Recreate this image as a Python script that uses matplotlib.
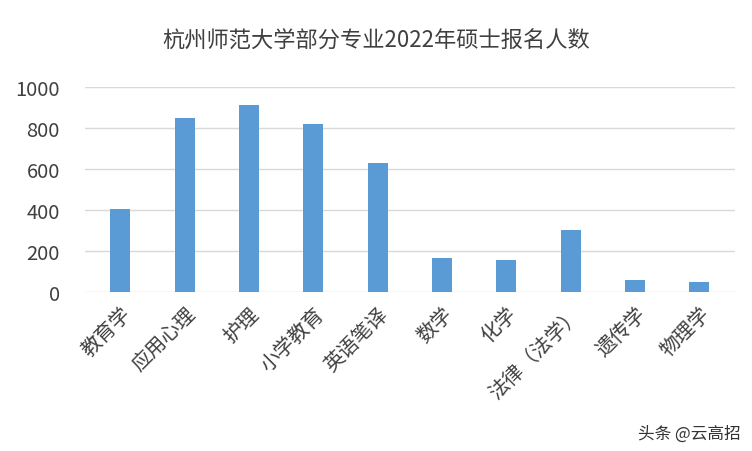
import matplotlib
matplotlib.use("Agg")
import matplotlib.pyplot as plt

plt.rcParams['font.family'] = ['Noto Sans CJK SC', 'DejaVu Sans']

categories = ["教育学", "应用心理", "护理", "小学教育", "英语笔译", "数学", "化学", "法律（法学）", "遗传学", "物理学"]
values = [405, 848, 912, 820, 628, 165, 155, 300, 58, 50]
yticks = [0, 200, 400, 600, 800, 1000]

fig = plt.figure(figsize=(7.52, 4.52), dpi=100)
ax = fig.add_axes([0.113, 0.352, 0.864, 0.453])
x = range(len(categories))
ax.bar(x, values, width=0.31, color="#5B9BD5", zorder=3)
ax.set_ylim(0, 1000)
ax.set_xlim(-0.55, len(categories) - 0.45)
ax.set_yticks(yticks)
ax.set_yticklabels([str(v) for v in yticks], fontsize=14.5, color="#404040")
ax.set_xticks(list(x))
ax.set_xticklabels(categories, rotation=45, ha="right", rotation_mode="anchor", fontsize=14.5, color="#404040")
ax.tick_params(axis="y", length=0, pad=18)
ax.tick_params(axis="x", length=0, pad=8)
ax.grid(axis="y", color="#D9D9D9", linewidth=1, zorder=0)
for s in ax.spines.values():
    s.set_visible(False)
fig.text(0.5, 0.895, "杭州师范大学部分专业2022年硕士报名人数", ha="center", fontsize=16, color="#404040")
fig.text(0.985, 0.03, "头条 @云高招", ha="right", fontsize=12, color="#333333")
fig.savefig("out.png", dpi=100)
